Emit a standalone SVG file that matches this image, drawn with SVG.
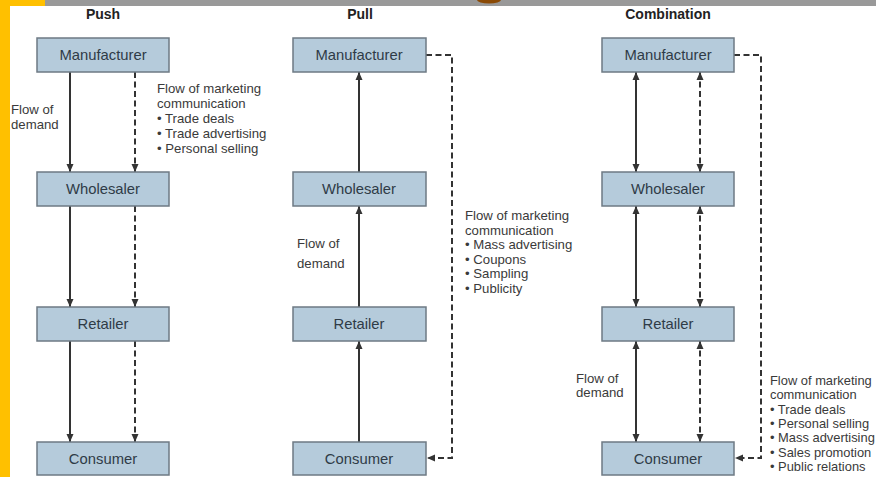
<svg xmlns="http://www.w3.org/2000/svg" width="876" height="477" viewBox="0 0 876 477">
<style>
.box{fill:#b5cbdb;stroke:#6e7a84;stroke-width:1.5}
.bt{font-family:"Liberation Sans",Arial,sans-serif;font-size:14.8px;fill:#2f3b47;text-anchor:middle}
.ttl{font-family:"Liberation Sans",Arial,sans-serif;font-size:14px;font-weight:bold;fill:#222;text-anchor:middle}
.lbl{font-family:"Liberation Sans",Arial,sans-serif;font-size:13.2px;fill:#3a3a3a}
.lbs{font-family:"Liberation Sans",Arial,sans-serif;font-size:12.9px;fill:#3a3a3a}
.sol{fill:none;stroke:#333;stroke-width:2}
.dsh{fill:none;stroke:#333;stroke-width:2;stroke-dasharray:6 3.5}
</style>
<defs>
<marker id="ah" markerUnits="userSpaceOnUse" markerWidth="9" markerHeight="8" refX="8" refY="4" orient="auto-start-reverse">
<path d="M0,0.5 L8,4 L0,7.5 z" fill="#333"/>
</marker>
</defs>
<rect width="876" height="477" fill="#fff"/>
<g id="frame">
<rect x="0" y="0" width="10" height="477" fill="#ffc000"/>
<rect x="0" y="0" width="45" height="6" fill="#ffc000"/>
<rect x="45" y="0" width="831" height="6" fill="#999"/>
<path d="M477,0 A12,3.5 0 0 0 501,0 z" fill="#8a4a05"/>
</g>
<g id="titles">
<text class="ttl" x="103" y="19">Push</text>
<text class="ttl" x="360" y="19">Pull</text>
<text class="ttl" x="668" y="19">Combination</text>
</g>
<g id="connectors">
<line class="sol" x1="70" y1="72" x2="70" y2="172" marker-end="url(#ah)"/>
<line class="dsh" x1="135" y1="72" x2="135" y2="172" marker-end="url(#ah)"/>
<line class="sol" x1="70" y1="206" x2="70" y2="307" marker-end="url(#ah)"/>
<line class="dsh" x1="135" y1="206" x2="135" y2="307" marker-end="url(#ah)"/>
<line class="sol" x1="70" y1="341" x2="70" y2="442" marker-end="url(#ah)"/>
<line class="dsh" x1="135" y1="341" x2="135" y2="442" marker-end="url(#ah)"/>
<line class="sol" x1="359" y1="442" x2="359" y2="341" marker-end="url(#ah)"/>
<line class="sol" x1="359" y1="307" x2="359" y2="206" marker-end="url(#ah)"/>
<line class="sol" x1="359" y1="172" x2="359" y2="72" marker-end="url(#ah)"/>
<path class="dsh" d="M426,55 H452 V458 H427" marker-end="url(#ah)"/>
<line class="sol" x1="636" y1="72" x2="636" y2="172" marker-start="url(#ah)" marker-end="url(#ah)"/>
<line class="dsh" x1="700" y1="72" x2="700" y2="172" marker-start="url(#ah)" marker-end="url(#ah)"/>
<line class="sol" x1="636" y1="206" x2="636" y2="307" marker-start="url(#ah)" marker-end="url(#ah)"/>
<line class="dsh" x1="700" y1="206" x2="700" y2="307" marker-start="url(#ah)" marker-end="url(#ah)"/>
<line class="sol" x1="636" y1="341" x2="636" y2="442" marker-start="url(#ah)" marker-end="url(#ah)"/>
<line class="dsh" x1="700" y1="341" x2="700" y2="442" marker-start="url(#ah)" marker-end="url(#ah)"/>
<path class="dsh" d="M734,55 H761 V458 H735" marker-end="url(#ah)"/>
</g>
<g id="push-manufacturer"><rect class="box" x="37" y="38" width="132" height="34"/><text class="bt" x="103" y="60">Manufacturer</text></g>
<g id="push-wholesaler"><rect class="box" x="37" y="172" width="132" height="34"/><text class="bt" x="103" y="194">Wholesaler</text></g>
<g id="push-retailer"><rect class="box" x="37" y="307" width="132" height="34"/><text class="bt" x="103" y="329">Retailer</text></g>
<g id="push-consumer"><rect class="box" x="37" y="442" width="132" height="33"/><text class="bt" x="103" y="464">Consumer</text></g>
<g id="pull-manufacturer"><rect class="box" x="293" y="38" width="133" height="34"/><text class="bt" x="359" y="60">Manufacturer</text></g>
<g id="pull-wholesaler"><rect class="box" x="293" y="172" width="133" height="34"/><text class="bt" x="359" y="194">Wholesaler</text></g>
<g id="pull-retailer"><rect class="box" x="293" y="307" width="133" height="34"/><text class="bt" x="359" y="329">Retailer</text></g>
<g id="pull-consumer"><rect class="box" x="293" y="442" width="133" height="33"/><text class="bt" x="359" y="464">Consumer</text></g>
<g id="comb-manufacturer"><rect class="box" x="602" y="38" width="132" height="34"/><text class="bt" x="668" y="60">Manufacturer</text></g>
<g id="comb-wholesaler"><rect class="box" x="602" y="172" width="132" height="34"/><text class="bt" x="668" y="194">Wholesaler</text></g>
<g id="comb-retailer"><rect class="box" x="602" y="307" width="132" height="34"/><text class="bt" x="668" y="329">Retailer</text></g>
<g id="comb-consumer"><rect class="box" x="602" y="442" width="132" height="33"/><text class="bt" x="668" y="464">Consumer</text></g>
<g id="labels">
<text class="lbl" x="11" y="114">Flow of</text>
<text class="lbl" x="11" y="129">demand</text>
<text class="lbl" x="157" y="93">Flow of marketing</text>
<text class="lbl" x="157" y="108">communication</text>
<text class="lbl" x="157" y="123">• Trade deals</text>
<text class="lbl" x="157" y="138">• Trade advertising</text>
<text class="lbl" x="157" y="153">• Personal selling</text>
<text class="lbl" x="297" y="248">Flow of</text>
<text class="lbl" x="297" y="268">demand</text>
<text class="lbl" x="465" y="220">Flow of marketing</text>
<text class="lbl" x="465" y="234.5">communication</text>
<text class="lbl" x="465" y="249">• Mass advertising</text>
<text class="lbl" x="465" y="263.5">• Coupons</text>
<text class="lbl" x="465" y="278">• Sampling</text>
<text class="lbl" x="465" y="292.5">• Publicity</text>
<text class="lbl" x="576" y="383">Flow of</text>
<text class="lbl" x="576" y="397">demand</text>
<text class="lbs" x="770" y="385">Flow of marketing</text>
<text class="lbs" x="770" y="399.3">communication</text>
<text class="lbs" x="770" y="413.6">• Trade deals</text>
<text class="lbs" x="770" y="427.9">• Personal selling</text>
<text class="lbs" x="770" y="442.2">• Mass advertising</text>
<text class="lbs" x="770" y="456.5">• Sales promotion</text>
<text class="lbs" x="770" y="470.8">• Public relations</text>
</g>
</svg>
